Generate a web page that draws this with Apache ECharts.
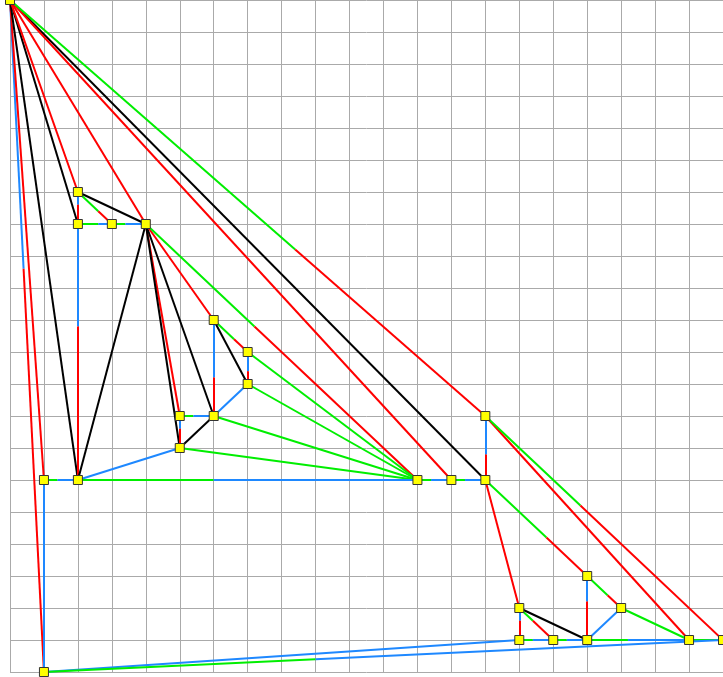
<!DOCTYPE html>
<html>
<head>
<meta charset="utf-8">
<script src="https://cdn.jsdelivr.net/npm/echarts@6/dist/echarts.min.js"></script>
<style>
html,body{margin:0;padding:0;background:#fff;}
#chart{width:723px;height:677px;}
</style>
</head>
<body>
<div id="chart"></div>
<script>
// Node grid positions
const nodeX = [0, 2, 2, 3, 4, 6, 7, 7, 5, 6, 5, 1, 2, 12, 13, 14, 14, 17, 15, 18, 15, 16, 17, 20, 21, 1];
const nodeY = [21, 15, 14, 14, 14, 11, 10, 9, 8, 8, 7, 6, 6, 6, 6, 6, 8, 3, 2, 2, 1, 1, 1, 1, 1, 0];

// Edges: [from, to, type of first part, type of second part, fraction of first part]
const edges = [
  [0, 25, 'b', 'r', 0.4],
  [0, 11, 'r', 'r', 1],
  [0, 12, 'k', 'k', 1],
  [0, 2, 'k', 'k', 1],
  [0, 1, 'r', 'r', 1],
  [0, 4, 'r', 'r', 1],
  [0, 15, 'k', 'k', 1],
  [0, 14, 'r', 'r', 1],
  [0, 16, 'g', 'r', 0.6],
  [1, 4, 'k', 'k', 1],
  [1, 3, 'g', 'r', 0.6],
  [1, 2, 'b', 'r', 0.4],
  [2, 3, 'g', 'b', 0.6],
  [3, 4, 'g', 'b', 0.4],
  [2, 12, 'b', 'r', 0.4],
  [4, 12, 'k', 'k', 1],
  [4, 8, 'r', 'r', 1],
  [4, 10, 'k', 'k', 1],
  [4, 9, 'k', 'k', 1],
  [4, 5, 'r', 'r', 1],
  [4, 13, 'g', 'r', 0.4],
  [5, 9, 'b', 'r', 0.6],
  [5, 7, 'k', 'k', 1],
  [5, 6, 'g', 'r', 0.6],
  [6, 7, 'b', 'r', 0.6],
  [6, 13, 'g', 'g', 1],
  [7, 13, 'g', 'g', 1],
  [9, 7, 'b', 'b', 1],
  [8, 9, 'g', 'b', 0.4],
  [8, 10, 'b', 'r', 0.4],
  [10, 9, 'k', 'k', 1],
  [10, 12, 'b', 'b', 1],
  [10, 13, 'g', 'g', 1],
  [9, 13, 'g', 'g', 1],
  [11, 12, 'g', 'b', 0.4],
  [11, 25, 'b', 'b', 1],
  [12, 13, 'g', 'b', 0.4],
  [13, 14, 'g', 'b', 0.4],
  [14, 15, 'g', 'b', 0.4],
  [16, 15, 'b', 'r', 0.6],
  [16, 23, 'r', 'r', 1],
  [16, 24, 'g', 'r', 0.4],
  [15, 18, 'r', 'r', 1],
  [15, 17, 'g', 'r', 0.6],
  [17, 22, 'b', 'r', 0.4],
  [17, 19, 'g', 'r', 0.6],
  [19, 23, 'g', 'g', 1],
  [19, 22, 'b', 'b', 1],
  [18, 22, 'k', 'k', 1],
  [18, 20, 'b', 'r', 0.4],
  [18, 21, 'g', 'r', 0.4],
  [20, 21, 'g', 'b', 0.4],
  [21, 22, 'g', 'b', 0.4],
  [22, 23, 'g', 'b', 0.4],
  [23, 24, 'g', 'g', 1],
  [25, 20, 'b', 'b', 1],
  [25, 24, 'g', 'b', 0.4]
];

const palette = { r: '#ff0000', g: '#00ee00', b: '#1e88ff', k: '#000000' };

const segs = [];
edges.forEach(([a, b, c1, c2, t]) => {
  const p1 = [nodeX[a], nodeY[a]];
  const p2 = [nodeX[b], nodeY[b]];
  const m = [p1[0] + t * (p2[0] - p1[0]), p1[1] + t * (p2[1] - p1[1])];
  segs.push({ coords: [p1, m], lineStyle: { color: palette[c1] } });
  if (t < 1) segs.push({ coords: [m, p2], lineStyle: { color: palette[c2] } });
});

const nodes = nodeX.map((x, i) => [x, nodeY[i]]);

const chart = echarts.init(document.getElementById('chart'));
const axisCommon = {
  type: 'value', min: 0, max: 21, interval: 1,
  axisLabel: { show: false }, axisTick: { show: false },
  axisLine: { show: false },
  splitLine: { show: true, lineStyle: { color: '#aaaaaa', width: 1 } }
};
chart.setOption({
  animation: false,
  backgroundColor: '#ffffff',
  grid: { left: 10, right: -1, top: 0, bottom: 5, containLabel: false },
  xAxis: axisCommon,
  yAxis: axisCommon,
  series: [
    {
      type: 'lines', coordinateSystem: 'cartesian2d', silent: true,
      lineStyle: { width: 2, opacity: 1 },
      data: segs, z: 2
    },
    {
      type: 'scatter', symbol: 'rect', symbolSize: 9, silent: true,
      itemStyle: { color: '#ffff00', borderColor: '#333333', borderWidth: 1, opacity: 1 },
      data: nodes, z: 3
    }
  ]
});
</script>
</body>
</html>
